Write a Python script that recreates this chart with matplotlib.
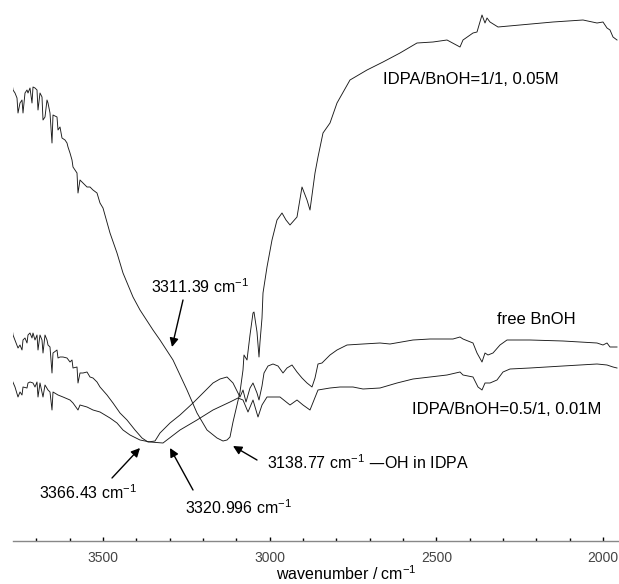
import numpy as np
import matplotlib
matplotlib.use('Agg')
import matplotlib.pyplot as plt
from matplotlib.ticker import MultipleLocator

plt.rcParams['font.family'] = ['Liberation Sans', 'DejaVu Sans']
plt.rcParams['mathtext.default'] = 'regular'

# IDPA/BnOH = 1/1, 0.05M  (wavenumber, transmittance a.u.)
wn_a = [3773, 3770, 3764, 3758, 3755, 3749, 3743, 3740, 3734, 3728, 3725, 3719,
        3713, 3710, 3704, 3698, 3695, 3689, 3683, 3680, 3674, 3668, 3665, 3659,
        3653, 3650, 3638, 3635, 3629, 3623, 3614, 3608, 3605, 3599, 3593, 3590,
        3584, 3578, 3575, 3569, 3560, 3548, 3539, 3530, 3518, 3509, 3500, 3479,
        3458, 3440, 3410, 3389, 3350, 3329, 3290, 3248, 3218, 3188, 3158, 3140,
        3128, 3119, 3110, 3098, 3089, 3080, 3077, 3068, 3059, 3050, 3047, 3038,
        3032, 3029, 3023, 3020, 3008, 2993, 2978, 2963, 2951, 2939, 2918, 2903,
        2888, 2879, 2864, 2855, 2840, 2819, 2798, 2759, 2708, 2660, 2609, 2558,
        2510, 2468, 2429, 2420, 2390, 2378, 2363, 2354, 2348, 2339, 2315, 2249,
        2150, 2060, 2018, 2000, 1988, 1979, 1970, 1958]
t_a = [458, 451, 448, 443, 428, 438, 441, 428, 448, 451, 448, 453,
       438, 454, 453, 451, 431, 448, 444, 421, 424, 441, 438, 428,
       398, 426, 424, 411, 414, 403, 401, 398, 394, 388, 381, 374,
       371, 368, 348, 361, 358, 354, 354, 351, 348, 338, 333, 308,
       288, 268, 244, 231, 211, 201, 181, 151, 128, 111, 103, 100,
       101, 104, 119, 136, 149, 171, 186, 181, 206, 228, 229, 209,
       184, 199, 223, 248, 274, 301, 321, 328, 321, 316, 324, 354,
       341, 331, 368, 384, 408, 418, 438, 461, 471, 479, 488, 498,
       499, 501, 494, 501, 508, 509, 526, 518, 523, 519, 514, 516,
       519, 521, 518, 519, 513, 511, 504, 501]

# free BnOH
wn_b = [3773, 3770, 3755, 3749, 3743, 3740, 3734, 3728, 3725, 3719, 3713, 3710,
        3704, 3698, 3695, 3689, 3683, 3680, 3674, 3668, 3665, 3659, 3653, 3650,
        3638, 3635, 3629, 3620, 3608, 3599, 3593, 3590, 3578, 3575, 3569, 3560,
        3548, 3539, 3530, 3518, 3509, 3488, 3470, 3449, 3428, 3404, 3383, 3365,
        3344, 3329, 3299, 3269, 3230, 3200, 3170, 3149, 3128, 3110, 3095, 3089,
        3080, 3071, 3059, 3050, 3038, 3032, 3023, 3017, 3005, 2990, 2975, 2960,
        2948, 2933, 2918, 2903, 2888, 2873, 2864, 2855, 2843, 2819, 2798, 2768,
        2720, 2669, 2639, 2570, 2519, 2450, 2429, 2420, 2390, 2378, 2363, 2354,
        2345, 2330, 2309, 2288, 2219, 2120, 2069, 2018, 2000, 1988, 1979, 1958]
t_b = [213, 206, 193, 196, 191, 201, 203, 198, 206, 208, 203, 208,
       201, 206, 191, 206, 201, 188, 206, 201, 196, 194, 168, 188,
       191, 183, 184, 184, 183, 179, 181, 173, 174, 158, 168, 168,
       169, 164, 163, 159, 154, 146, 138, 128, 121, 111, 103, 99,
       100, 108, 118, 126, 138, 148, 158, 162, 164, 158, 148, 144,
       151, 139, 153, 158, 148, 141, 155, 168, 175, 177, 175, 168,
       173, 176, 169, 163, 158, 154, 163, 177, 178, 186, 191, 196,
       197, 198, 197, 201, 202, 202, 204, 202, 198, 188, 179, 188,
       186, 188, 196, 201, 201, 200, 199, 198, 196, 198, 194, 194]

# IDPA/BnOH = 0.5/1, 0.01M
wn_c = [3773, 3764, 3755, 3749, 3743, 3740, 3728, 3725, 3719, 3710, 3704, 3698,
        3695, 3689, 3680, 3674, 3665, 3659, 3653, 3650, 3635, 3620, 3599, 3590,
        3575, 3569, 3548, 3530, 3509, 3479, 3458, 3440, 3419, 3389, 3359, 3320,
        3269, 3218, 3170, 3119, 3095, 3080, 3065, 3050, 3035, 3023, 3008, 2969,
        2939, 2918, 2900, 2879, 2855, 2819, 2789, 2750, 2720, 2669, 2618, 2570,
        2519, 2468, 2429, 2420, 2390, 2375, 2363, 2354, 2339, 2318, 2300, 2279,
        2219, 2120, 2018, 1988, 1970, 1958]
t_c = [161, 154, 144, 149, 146, 154, 153, 158, 159, 158, 154, 159,
       144, 158, 144, 156, 151, 149, 131, 149, 146, 144, 141, 138,
       131, 136, 134, 131, 129, 123, 118, 111, 106, 101, 99, 98,
       111, 121, 131, 139, 143, 141, 129, 141, 124, 136, 144, 144,
       136, 141, 136, 131, 151, 153, 154, 154, 152, 153, 158, 162,
       164, 166, 169, 166, 164, 154, 151, 158, 158, 161, 169, 172,
       173, 175, 177, 176, 174, 173]

W, H = 619, 584
fig = plt.figure(figsize=(W / 100, H / 100), dpi=100)
ax = fig.add_axes([13 / W, (H - 541) / H, 1 - 13 / W, 541 / H])

for wn, t in [(wn_a, t_a), (wn_b, t_b), (wn_c, t_c)]:
    ax.plot(wn, t, color='#1a1a1a', lw=0.65)

ax.set_xlim(3770, 1952)
ax.set_ylim(0, 541)
ax.xaxis.set_major_locator(MultipleLocator(500))
ax.xaxis.set_minor_locator(MultipleLocator(100))
ax.tick_params(axis='x', which='major', direction='in', length=3, width=1,
               color='k', labelsize=10, labelcolor='#444444', pad=7)
ax.tick_params(axis='x', which='minor', direction='in', length=2, width=1, color='k')
ax.set_yticks([])
for s in ['left', 'right', 'top']:
    ax.spines[s].set_visible(False)
ax.spines['bottom'].set_color('#888888')
ax.spines['bottom'].set_linewidth(1)
ax.patch.set_alpha(0)

fig.text(346 / W, 1 - 574 / H, 'wavenumber / cm$^{-1}$', fontsize=11.5,
         ha='center', va='center')

fs = 11.5
arrow = dict(arrowstyle='-|>', color='k', lw=1, mutation_scale=13, shrinkA=0, shrinkB=0)

ax.text(2660, 461, 'IDPA/BnOH=1/1, 0.05M', fontsize=12, va='center', ha='left')
ax.text(2319, 221, 'free BnOH', fontsize=12, va='center', ha='left')
ax.text(2572, 132, 'IDPA/BnOH=0.5/1, 0.01M', fontsize=12, va='center', ha='left')

ax.text(3356, 254, '3311.39 cm$^{-1}$', fontsize=fs, va='center', ha='left')
ax.annotate('', xy=(3293, 194), xytext=(3260, 241), arrowprops=arrow)

ax.text(3008, 78, '3138.77 cm$^{-1}$ \u2014OH in IDPA', fontsize=fs, va='center', ha='left')
ax.annotate('', xy=(3110, 95), xytext=(3038, 81), arrowprops=arrow)

ax.text(3692, 48, '3366.43 cm$^{-1}$', fontsize=fs, va='center', ha='left')
ax.annotate('', xy=(3389, 93), xytext=(3473, 63), arrowprops=arrow)

ax.text(3254, 33, '3320.996 cm$^{-1}$', fontsize=fs, va='center', ha='left')
ax.annotate('', xy=(3299, 93), xytext=(3230, 51), arrowprops=arrow)

fig.savefig('out.png', dpi=100)
